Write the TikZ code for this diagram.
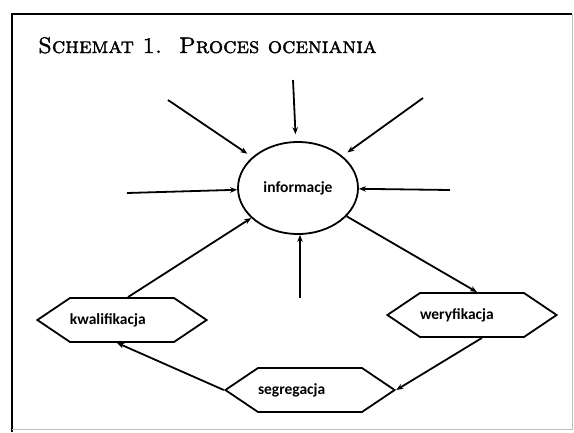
\documentclass[tikz,border=0pt]{standalone}
\usepackage{fontspec}
\newfontfamily\carlito{Carlito}
\newfontfamily\titlefont{Latin Modern Roman}[SmallCapsFont={Latin Modern Roman Caps},SmallCapsFeatures={FakeBold=1.5},FakeBold=1.5]
\usetikzlibrary{arrows.meta,shapes.symbols,shapes.geometric}

\begin{document}
\begin{tikzpicture}[x=1pt,y=-1pt,
    arr/.style={line width=1.8pt,-{Stealth[length=7pt,width=5.5pt]}},
    label/.style={font=\carlito\bfseries\fontsize{15.5}{18}\selectfont},
    hexbox/.style={draw,line width=1.8pt,shape=signal,signal to=west and east,
      signal pointer angle=68,text width=104pt,inner xsep=0pt,align=left,minimum height=44pt,label}]
        \useasboundingbox (0,0) rectangle (574,432);
        \draw[line width=2.2pt] (12,432) -- (12,14) -- (572,14);
        \draw[gray!50] (572,14) -- (572,429) -- (12,429);
        \node[anchor=base west,inner sep=0pt,font=\titlefont\fontsize{22.5}{25}\selectfont\scshape] (title) at (38,53) {Schemat 1.\ \ Proces oceniania};
        \node[draw,ellipse,line width=1.8pt,minimum width=120pt,minimum height=92pt,inner sep=0pt,label] (informacje) at (298,188) {informacje};
        \node[hexbox] (kwalifikacja) at (122,320) {kwalifikacja};
        \node[hexbox] (weryfikacja) at (472,315) {weryfikacja};
        \node[hexbox] (segregacja) at (310,390) {segregacja};
        \coordinate (in-top) at (293,80);
        \coordinate (in-ul) at (168,100);
        \coordinate (in-ur) at (423,98);
        \coordinate (in-l) at (127,193);
        \coordinate (in-r) at (450,190);
        \coordinate (in-b) at (300,298);
        \foreach \c/\s in {top/7,ul/6,ur/6,l/0,r/0}
        \draw[arr,shorten >=\s pt] (in-\c) -- (informacje);
        \draw[arr] (in-b) -- (in-b |- informacje.south);
        \draw[arr] ([xshift=6pt]kwalifikacja.north) -- (informacje);
        \draw[arr] (informacje) -- ([xshift=5pt]weryfikacja.north);
        \draw[arr] ([xshift=10pt]weryfikacja.south) -- (segregacja.east);
        \draw[arr] (segregacja.west) -- ([xshift=-5pt]kwalifikacja.south);
      \end{tikzpicture}
\end{document}
